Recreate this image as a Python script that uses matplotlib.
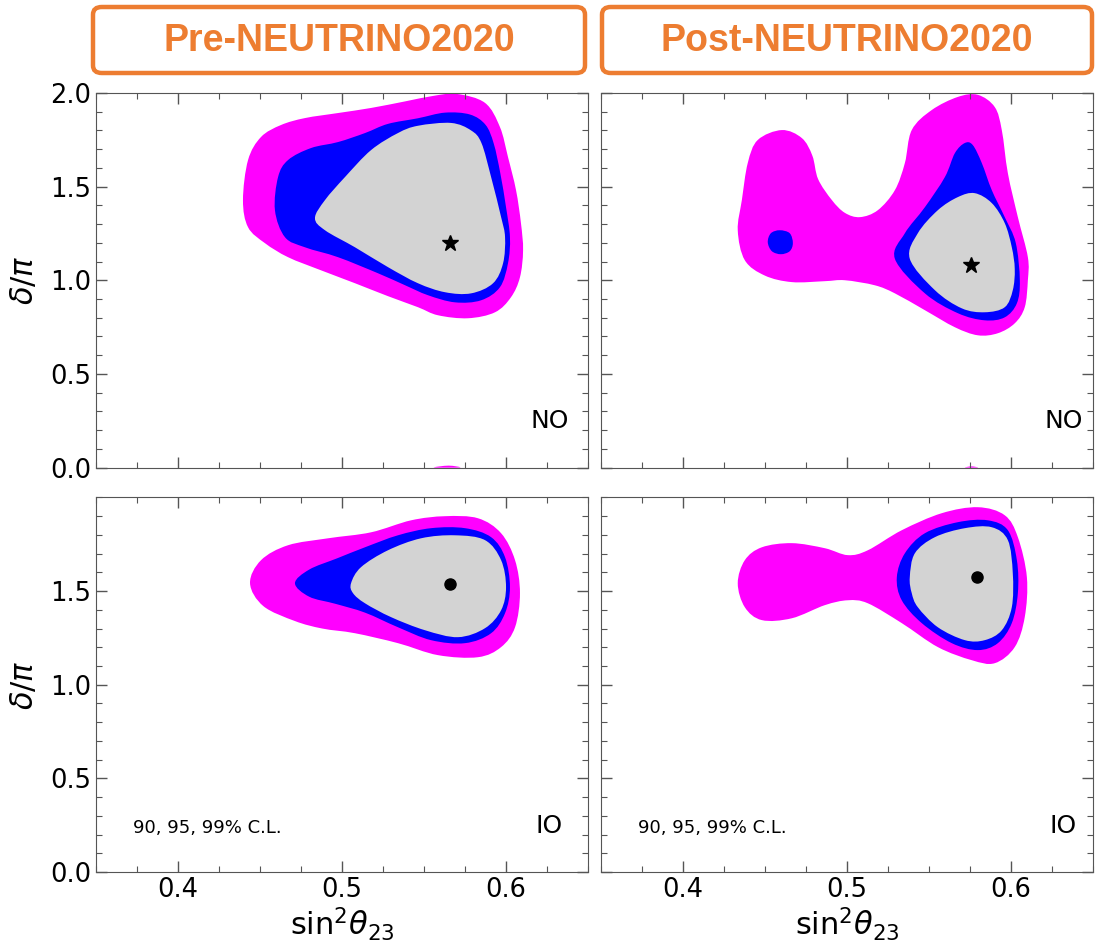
import numpy as np
import matplotlib.pyplot as plt
from matplotlib.patches import FancyBboxPatch, PathPatch
from matplotlib.path import Path
from matplotlib.ticker import MultipleLocator

# contour boundaries: (sin^2 theta23, delta/pi)
# Pre-NEUTRINO2020, NO
pre_no_99 = [(0.4396, 1.428), (0.4427, 1.642), (0.4506, 1.765), (0.4628, 1.829), (0.4774, 1.866),
             (0.4976, 1.893), (0.5177, 1.920), (0.5384, 1.955), (0.5560, 1.985), (0.5700, 1.995),
             (0.5872, 1.947), (0.5963, 1.818), (0.6012, 1.658), (0.6061, 1.481), (0.6091, 1.305),
             (0.6104, 1.160), (0.6085, 1.016), (0.6030, 0.909), (0.5933, 0.829), (0.5768, 0.797),
             (0.5585, 0.813), (0.5463, 0.856), (0.5280, 0.915), (0.5079, 0.984), (0.4872, 1.053),
             (0.4671, 1.123), (0.4530, 1.198), (0.4427, 1.283)]
pre_no_95 = [(0.4591, 1.374), (0.4610, 1.551), (0.4671, 1.642), (0.4811, 1.706), (0.4976, 1.738),
             (0.5140, 1.786), (0.5280, 1.835), (0.5463, 1.865), (0.5628, 1.895), (0.5780, 1.885),
             (0.5875, 1.830), (0.5925, 1.730), (0.5965, 1.572), (0.6000, 1.390), (0.6024, 1.230),
             (0.6012, 1.091), (0.5963, 0.963), (0.5848, 0.893), (0.5689, 0.882), (0.5524, 0.920),
             (0.5380, 0.975), (0.5220, 1.037), (0.4976, 1.123), (0.4774, 1.176), (0.4652, 1.230)]
pre_no_90 = [(0.4835, 1.332), (0.4896, 1.428), (0.5018, 1.551), (0.5177, 1.695), (0.5341, 1.786),
             (0.5463, 1.825), (0.5665, 1.840), (0.5787, 1.800), (0.5850, 1.733), (0.5909, 1.551),
             (0.5970, 1.337), (0.5994, 1.230), (0.5982, 1.091), (0.5921, 0.984), (0.5787, 0.930),
             (0.5628, 0.936), (0.5463, 0.984), (0.5280, 1.070), (0.5079, 1.176), (0.4896, 1.267)]
pre_no_99_wrap = [(0.556, 0.0), (0.565, 0.010), (0.572, 0.0)]
pre_no_best = (0.566, 1.20)

# Post-NEUTRINO2020, NO
post_no_99 = [(0.4335, 1.267), (0.4360, 1.428), (0.4396, 1.626), (0.4457, 1.749), (0.4604, 1.802),
              (0.4726, 1.759), (0.4790, 1.665), (0.4825, 1.540), (0.4909, 1.428), (0.4988, 1.360),
              (0.5080, 1.337), (0.5189, 1.374), (0.5293, 1.481), (0.5354, 1.626), (0.5396, 1.802),
              (0.5518, 1.909), (0.5677, 1.979), (0.5799, 1.990), (0.5902, 1.925), (0.5945, 1.802),
              (0.5982, 1.572), (0.6043, 1.337), (0.6104, 1.123), (0.6104, 1.000), (0.6085, 0.856),
              (0.6024, 0.770), (0.5921, 0.717), (0.5799, 0.706), (0.5659, 0.749), (0.5476, 0.840),
              (0.5293, 0.930), (0.5171, 0.973), (0.4988, 1.000), (0.4866, 0.995), (0.4665, 0.990),
              (0.4500, 1.025), (0.4378, 1.107)]
post_no_95 = [(0.5293, 1.115), (0.5354, 1.251), (0.5476, 1.390), (0.5598, 1.551), (0.5659, 1.679),
              (0.5720, 1.733), (0.5768, 1.722), (0.5823, 1.626), (0.5884, 1.481), (0.5963, 1.337),
              (0.6030, 1.200), (0.6055, 1.000), (0.6037, 0.877), (0.5963, 0.802), (0.5841, 0.786),
              (0.5677, 0.824), (0.5476, 0.930)]
post_no_95_island = [(0.4518, 1.203), (0.4537, 1.251), (0.4591, 1.267), (0.4652, 1.251),
                     (0.4671, 1.198), (0.4652, 1.155), (0.4598, 1.139), (0.4543, 1.155)]
post_no_90 = [(0.5384, 1.115), (0.5433, 1.251), (0.5555, 1.374), (0.5677, 1.444), (0.5780, 1.465),
              (0.5884, 1.412), (0.5963, 1.305), (0.6006, 1.176), (0.6024, 1.060), (0.6012, 0.947),
              (0.5963, 0.856), (0.5841, 0.829), (0.5701, 0.850), (0.5537, 0.947)]
post_no_99_wrap = [(0.572, 0.0), (0.576, 0.006), (0.580, 0.0)]
post_no_best = (0.5756, 1.08)

# Pre-NEUTRINO2020, IO
pre_io_99 = [(0.4439, 1.542), (0.4506, 1.665), (0.4671, 1.745), (0.4915, 1.782), (0.5177, 1.814),
             (0.5421, 1.878), (0.5628, 1.900), (0.5829, 1.889), (0.5970, 1.809), (0.6055, 1.665),
             (0.6085, 1.489), (0.6055, 1.307), (0.5970, 1.201), (0.5829, 1.147), (0.5585, 1.158),
             (0.5341, 1.222), (0.5079, 1.275), (0.4880, 1.300), (0.4713, 1.340), (0.4520, 1.420)]
pre_io_95 = [(0.4713, 1.542), (0.4800, 1.615), (0.4970, 1.675), (0.5140, 1.734), (0.5341, 1.798),
             (0.5543, 1.836), (0.5750, 1.836), (0.5909, 1.788), (0.5994, 1.681), (0.6024, 1.521),
             (0.5994, 1.382), (0.5909, 1.275), (0.5750, 1.222), (0.5543, 1.238), (0.5341, 1.307),
             (0.5140, 1.385), (0.4960, 1.432), (0.4800, 1.470)]
pre_io_90 = [(0.5055, 1.542), (0.5116, 1.628), (0.5280, 1.718), (0.5482, 1.782), (0.5689, 1.798),
             (0.5872, 1.772), (0.5970, 1.665), (0.6000, 1.521), (0.5970, 1.398), (0.5872, 1.302),
             (0.5707, 1.254), (0.5506, 1.291), (0.5299, 1.361), (0.5140, 1.435), (0.5067, 1.489)]
pre_io_best = (0.566, 1.54)

# Post-NEUTRINO2020, IO
post_io_99 = [(0.4335, 1.542), (0.4378, 1.665), (0.4482, 1.734), (0.4665, 1.756), (0.4866, 1.729),
              (0.5006, 1.692), (0.5128, 1.718), (0.5335, 1.825), (0.5579, 1.916), (0.5799, 1.948),
              (0.5963, 1.905), (0.6043, 1.788), (0.6098, 1.574), (0.6085, 1.361), (0.6024, 1.201),
              (0.5902, 1.115), (0.5762, 1.131), (0.5555, 1.201), (0.5335, 1.329), (0.5128, 1.435),
              (0.5006, 1.451), (0.4866, 1.425), (0.4665, 1.355), (0.4482, 1.345), (0.4378, 1.414)]
post_io_95 = [(0.5305, 1.574), (0.5354, 1.702), (0.5476, 1.809), (0.5677, 1.868), (0.5860, 1.878),
              (0.5982, 1.825), (0.6037, 1.665), (0.6043, 1.489), (0.6006, 1.329), (0.5921, 1.222),
              (0.5799, 1.185), (0.5640, 1.222), (0.5457, 1.329), (0.5335, 1.451)]
post_io_90 = [(0.5384, 1.574), (0.5415, 1.702), (0.5537, 1.788), (0.5720, 1.836), (0.5884, 1.841),
              (0.5982, 1.772), (0.6012, 1.596), (0.6006, 1.414), (0.5945, 1.291), (0.5841, 1.238),
              (0.5720, 1.238), (0.5555, 1.307), (0.5433, 1.414), (0.5396, 1.489)]
post_io_best = (0.5793, 1.574)

titles = ["Pre-NEUTRINO2020", "Post-NEUTRINO2020"]
orange = "#ED7D31"
c99, c95, c90 = "#FF00FF", "#0000FF", "#D3D3D3"


def smooth_fill(ax, poly, color):
    # closed curve through the read boundary points (catmull-rom as cubic beziers)
    v = np.array(poly)
    n = len(v)
    verts = [v[0]]
    codes = [Path.MOVETO]
    for i in range(n):
        p0, p1, p2, p3 = v[i - 1], v[i], v[(i + 1) % n], v[(i + 2) % n]
        verts += [p1 + (p2 - p0) / 6, p2 - (p3 - p1) / 6, p2]
        codes += [Path.CURVE4] * 3
    ax.add_patch(PathPatch(Path(verts, codes), facecolor=color, edgecolor="none", lw=0))


fig, axes = plt.subplots(2, 2, figsize=(10.95, 9.43), dpi=100)
fig.subplots_adjust(left=0.0877, right=0.998, top=0.9014, bottom=0.0753, wspace=0.026, hspace=0.08)

panels = [
    (axes[0, 0], [pre_no_99, pre_no_99_wrap], [pre_no_95], [pre_no_90], pre_no_best, "*", "NO", False, 0.923),
    (axes[0, 1], [post_no_99, post_no_99_wrap], [post_no_95, post_no_95_island], [post_no_90], post_no_best, "*", "NO", False, 0.94),
    (axes[1, 0], [pre_io_99], [pre_io_95], [pre_io_90], pre_io_best, "o", "IO", True, 0.921),
    (axes[1, 1], [post_io_99], [post_io_95], [post_io_90], post_io_best, "o", "IO", True, 0.939),
]

for ax, r99, r95, r90, best, mk, label, io, lx in panels:
    for poly in r99:
        smooth_fill(ax, poly, c99)
    for poly in r95:
        smooth_fill(ax, poly, c95)
    for poly in r90:
        smooth_fill(ax, poly, c90)
    ax.plot(best[0], best[1], marker=mk, color="k", ms=12 if mk == "*" else 8, ls="none")
    ax.set_xlim(0.35, 0.65)
    ax.set_ylim(0.0, 2.0)
    ax.xaxis.set_major_locator(MultipleLocator(0.1))
    ax.xaxis.set_minor_locator(MultipleLocator(0.025))
    ax.yaxis.set_major_locator(MultipleLocator(0.5))
    ax.yaxis.set_minor_locator(MultipleLocator(0.1))
    ax.tick_params(which="both", direction="in", top=True, right=True, colors="#555555",
                   labelcolor="black", labelsize=18.5)
    ax.tick_params(which="major", length=8, width=1)
    ax.tick_params(which="minor", length=4, width=0.8)
    for s in ax.spines.values():
        s.set_color("#555555")
    ax.text(lx, 0.123, label, transform=ax.transAxes, fontsize=18, ha="center", va="center")
    if io:
        ax.text(0.075, 0.117, "90, 95, 99% C.L.", transform=ax.transAxes, fontsize=13, ha="left", va="center")
        ax.set_yticks([0.0, 0.5, 1.0, 1.5])
        ax.set_ylim(0.0, 2.0)
        ax.set_xlabel(r"$\mathrm{sin}^2\theta_{23}$", fontsize=22, labelpad=2)
    else:
        ax.tick_params(labelbottom=False)

axes[0, 1].tick_params(labelleft=False)
axes[1, 1].tick_params(labelleft=False)
axes[0, 0].set_ylabel(r"$\delta/\pi$", fontsize=22, labelpad=8)
axes[1, 0].set_ylabel(r"$\delta/\pi$", fontsize=22, labelpad=8)

# orange title boxes above the columns
W, H = 1095.0, 943.0
for (x0, x1), t in zip([(93, 585), (602, 1092)], titles):
    box = FancyBboxPatch((x0 / W, 1 - 73 / H), (x1 - x0) / W, 66 / H,
                         boxstyle="round,pad=0,rounding_size=0.008", transform=fig.transFigure,
                         facecolor="white", edgecolor=orange, lw=3.2)
    fig.patches.append(box)
    fig.text((x0 + x1) / 2 / W, 1 - 41 / H, t, color=orange, fontsize=27, fontweight="bold",
             family="Liberation Sans", ha="center", va="center")

plt.savefig("out.png", dpi=100)
